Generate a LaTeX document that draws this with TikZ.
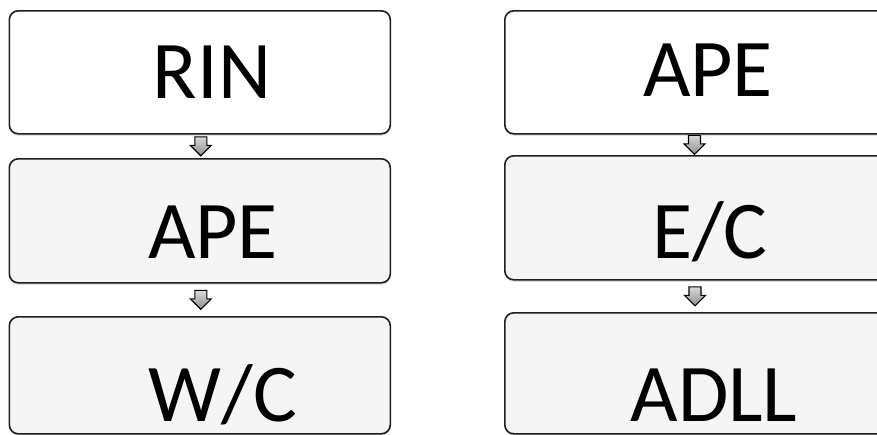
\documentclass[tikz,border=0pt]{standalone}
\usepackage{fontspec}
\setmainfont{Carlito}
\usetikzlibrary{shadows,calc}
\tikzset{
  box/.style={draw=black!88, line width=1.6pt, rounded corners=9pt, fill=#1,
    rectangle, inner sep=0pt, anchor=north west,
    drop shadow={shadow xshift=0pt, shadow yshift=-2pt, opacity=0.25}},
  lbl/.style={anchor=base, inner sep=0pt, font=\fontsize{82}{90}\selectfont},
  darr/.style={draw=black, line width=1.1pt, line join=miter, top color=black!15, bottom color=black!45}
}
\newcommand{\downarrowat}[1]{%
  \path[darr] ($(#1)+(-6,-9.5)$) -- ($(#1)+(6,-9.5)$) -- ($(#1)+(6,-1)$) -- ($(#1)+(10.5,-1)$)
   -- ($(#1)+(0,9.5)$) -- ($(#1)+(-10.5,-1)$) -- ($(#1)+(-6,-1)$) -- cycle;}
\begin{document}
\begin{tikzpicture}[x=1pt,y=-1pt]
\useasboundingbox (0,0) rectangle (877,434);
\clip (0,0) rectangle (877,434);
\fill[white] (0,0) rectangle (877,434);
% left column
\node[box=white, minimum width=381pt, minimum height=123pt] (L1) at (8.5,10) {};
\node[box=black!4, minimum width=381pt, minimum height=124pt] (L2) at (8.5,158) {};
\node[box=black!4, minimum width=381pt, minimum height=117pt] (L3) at (8.5,316) {};
% right column (extends past the right edge)
\node[box=white, minimum width=400pt, minimum height=123pt] (R1) at (504,10) {};
\node[box=black!4, minimum width=400pt, minimum height=124pt] (R2) at (504,155) {};
\node[box=black!4, minimum width=400pt, minimum height=121pt] (R3) at (504,312) {};
% labels
\node[lbl] (tL1) at (212,98) {RIN};
\node[lbl] (tL2) at (213,258) {APE};
\node[lbl] (tL3) at (223,421) {W/C};
\node[lbl] (tR1) at (708,96) {APE};
\node[lbl] (tR2) at (710,258) {E/C};
\node[lbl] (tR3) at (714,421) {ADLL};
% arrows between boxes
\coordinate (a1) at ($(L1.south)!0.5!(L2.north)+(1,0)$);
\coordinate (a2) at ($(L2.south)!0.5!(L3.north)+(1,0)$);
\coordinate (a3) at ($(R1.south west)!0.5!(R2.north west)+(190.5,0)$);
\coordinate (a4) at ($(R2.south west)!0.5!(R3.north west)+(191,0)$);
\downarrowat{a1}
\downarrowat{a2}
\downarrowat{a3}
\downarrowat{a4}
\end{tikzpicture}
\end{document}
